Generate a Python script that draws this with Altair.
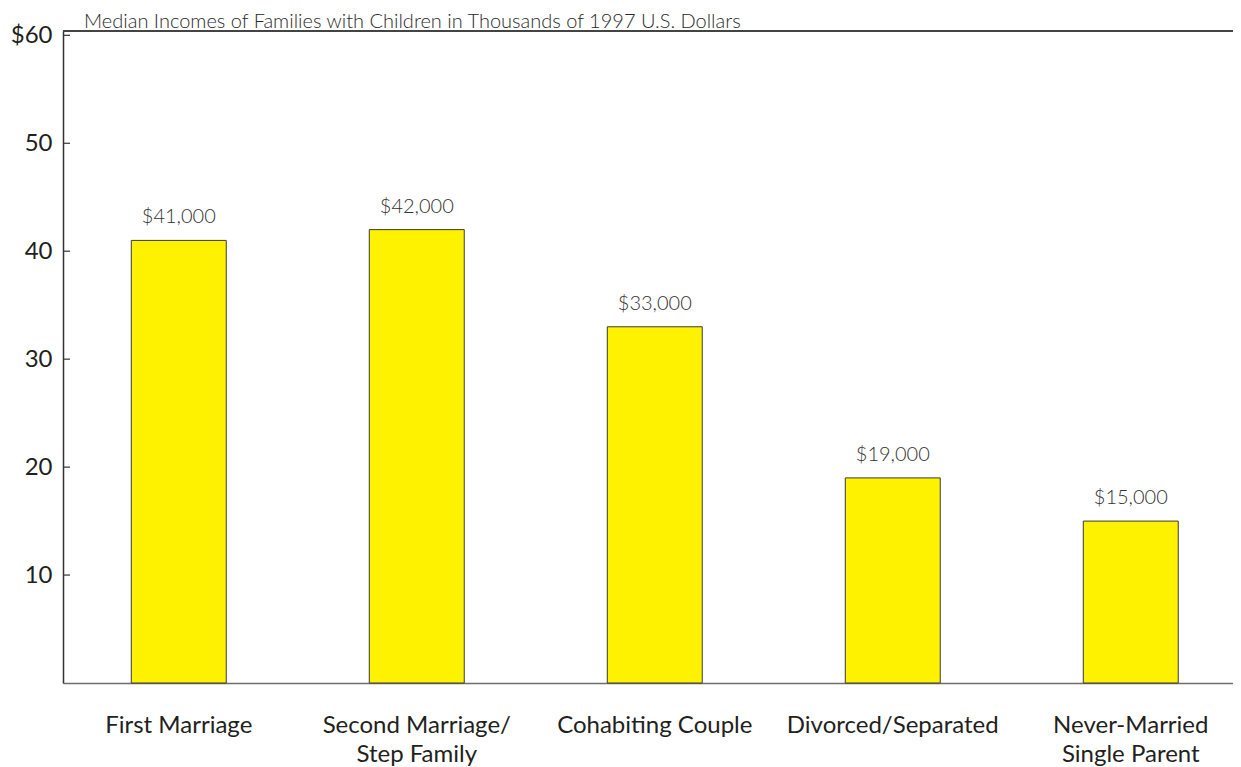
import altair as alt
import pandas as pd

categories = ["First Marriage", "Second Marriage/\nStep Family", "Cohabiting Couple",
              "Divorced/Separated", "Never-Married\nSingle Parent"]
values = [41, 42, 33, 19, 15]  # thousands of 1997 US dollars
value_labels = ["$41,000", "$42,000", "$33,000", "$19,000", "$15,000"]
y_ticks = [10, 20, 30, 40, 50, 60]
title_text = "Median Incomes of Families with Children in Thousands of 1997 U.S. Dollars"

FONT = "Lato"
W, H = 1170, 652
YMAX = 60.4

df = pd.DataFrame({"cat": categories, "value": values, "label": value_labels})
ticks_df = pd.DataFrame({"t": y_ticks})
one = pd.DataFrame({"a": [0]})

xenc = alt.X("cat:N", sort=None,
             scale=alt.Scale(paddingInner=0.601, paddingOuter=0.2585, align=0.555),
             axis=alt.Axis(title=None, labelAngle=0, ticks=False, tickSize=0,
                           labelPadding=30, labelBaseline="top", labelLimit=400,
                           labelFont=FONT, labelFontSize=24, labelFontWeight="normal",
                           labelColor="#231f20",
                           labelLineHeight=29,
                           labelExpr="split(datum.label, '\\n')",
                           domainColor="#6e6e6e", domainWidth=1.5))
yscale = alt.Scale(domain=[0, YMAX], nice=False, zero=True)

bars = alt.Chart(df).mark_bar(fill="#FFF200", stroke="#3a3a3a", strokeWidth=1).encode(
    x=xenc,
    y=alt.Y("value:Q", scale=yscale,
            axis=alt.Axis(title=None, values=y_ticks, ticks=False, tickSize=0, grid=False,
                          labelPadding=11, labelFont=FONT, labelFontSize=24,
                          labelFontWeight="normal", labelColor="#231f20",
                          labelExpr="datum.value == 60 ? '$60' : datum.label",
                          domainColor="#333333", domainWidth=1.5)),
)

vlabels = alt.Chart(df).mark_text(font=FONT, fontSize=20, fontWeight=300, color="#333333",
                                   baseline="alphabetic", dy=-17).encode(
    x=alt.X("cat:N", sort=None),
    y=alt.Y("value:Q", scale=yscale),
    text="label:N",
)

tick_marks = alt.Chart(ticks_df).mark_rule(color="#333333", strokeWidth=1.2).encode(
    y=alt.Y("t:Q", scale=yscale),
    x=alt.value(0),
    x2=alt.value(7),
)

top_line = alt.Chart(one).mark_rule(color="#444444", strokeWidth=2).encode(
    y=alt.value(0), x=alt.value(0), x2=alt.value(W)
)

title = alt.Chart(one).mark_text(font=FONT, fontSize=20, fontWeight=300, color="#2a2a2a",
                                 align="left", baseline="alphabetic").encode(
    x=alt.value(21), y=alt.value(-3), text=alt.value(title_text)
)

chart = alt.layer(bars, vlabels, tick_marks, top_line, title).properties(
    width=W, height=H,
    autosize=alt.AutoSizeParams(type="none"),
    padding={"left": 55, "top": 23, "right": 0, "bottom": 84},
    background="white",
).configure_view(stroke=None)

chart.save("out.html", embed_options={"renderer": "svg", "actions": False})
